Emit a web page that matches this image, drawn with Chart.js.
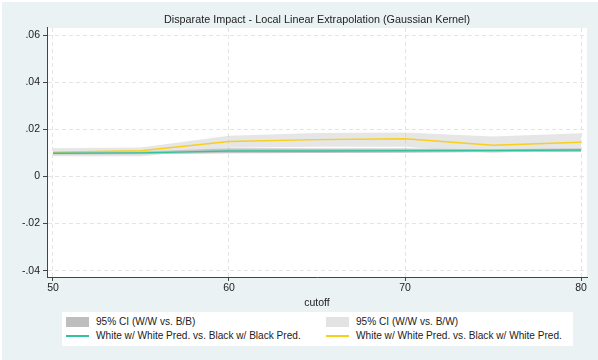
<!DOCTYPE html>
<html>
<head>
<meta charset="utf-8">
<script src="https://cdn.jsdelivr.net/npm/chart.js@4.4.1/dist/chart.umd.min.js"></script>
<style>
  body { margin: 0; background: #fff; }
  #wrap { position: relative; width: 598px; height: 360px; }
  #legend {
    position: absolute; left: 62px; top: 312px; width: 511px; height: 34px;
    background: #fff; font: 10.1px "Liberation Sans", Arial, sans-serif; color: #222;
  }
  #legend .item { position: absolute; height: 14px; line-height: 14px; white-space: nowrap; }
  #legend .sw { position: absolute; left: 0; width: 23px; }
  #legend .txt { position: absolute; left: 30px; top: 0; }
</style>
</head>
<body>
<div id="wrap">
  <canvas id="myChart" width="598" height="360"></canvas>
  <div id="legend"></div>
</div>
<script>
const cutoffs = [50, 55, 60, 65, 70, 75, 80];

// W/W vs. B/B estimate and its 95% CI
const wwBB   = [0.0098, 0.0100, 0.0108, 0.0108, 0.0109, 0.0110, 0.0112];
const wwBBLo = [0.0093, 0.0094, 0.0098, 0.0099, 0.0100, 0.0104, 0.0104];
const wwBBHi = [0.0104, 0.0106, 0.0119, 0.0118, 0.0118, 0.0115, 0.0119];

// W/W vs. B/W estimate and its 95% CI
const wwBW   = [0.0103, 0.0109, 0.0148, 0.0156, 0.0160, 0.0132, 0.0145];
const wwBWLo = [0.0085, 0.0086, 0.0122, 0.0126, 0.0126, 0.0098, 0.0122];
const wwBWHi = [0.0119, 0.0123, 0.0173, 0.0184, 0.0186, 0.0169, 0.0183];

const xTicks = [50, 60, 70, 80];
const yTicks = [-0.04, -0.02, 0, 0.02, 0.04, 0.06];

const pts = vals => vals.map((v, i) => ({x: cutoffs[i], y: v}));
const fmtY = v => v === 0 ? '0' : v.toFixed(2).replace('0.', '.');

const FONT = '"Liberation Sans", Arial, sans-serif';

const bgPlugin = {
    id: 'bg',
    beforeDraw(chart) {
        const c = chart.ctx, a = chart.chartArea;
        c.save();
        c.fillStyle = '#ffffff';
        c.fillRect(0, 0, chart.width, chart.height);
        c.fillStyle = '#eaf2f3';
        c.fillRect(2, 2, chart.width - 2, chart.height - 2);
        c.fillStyle = '#ffffff';
        c.fillRect(a.left, a.top, a.right - a.left, a.bottom - a.top);
        c.restore();
    }
};

const ctx = document.getElementById('myChart').getContext('2d');
const chart = new Chart(ctx, {
    type: 'line',
    data: {
        datasets: [
            {
                label: 'White w/ White Pred. vs. Black w/ Black Pred.',
                data: pts(wwBB), borderColor: '#33c39c', borderWidth: 1.4,
                pointRadius: 0, fill: false
            },
            {
                label: 'White w/ White Pred. vs. Black w/ White Pred.',
                data: pts(wwBW), borderColor: '#f8cf1a', borderWidth: 1.4,
                pointRadius: 0, fill: false
            },
            {
                label: '95% CI (W/W vs. B/W)',
                data: pts(wwBWHi), borderWidth: 0, pointRadius: 0,
                backgroundColor: 'rgba(200, 200, 200, 0.45)', fill: 3
            },
            {
                label: '', data: pts(wwBWLo), borderWidth: 0, pointRadius: 0, fill: false
            },
            {
                label: '95% CI (W/W vs. B/B)',
                data: pts(wwBBHi), borderWidth: 0, pointRadius: 0,
                backgroundColor: 'rgba(170, 170, 170, 0.7)', fill: 5
            },
            {
                label: '', data: pts(wwBBLo), borderWidth: 0, pointRadius: 0, fill: false
            }
        ]
    },
    options: {
        responsive: false,
        animation: false,
        devicePixelRatio: 1,
        layout: { padding: { left: 0, right: 11, top: 0, bottom: 51 } },
        plugins: {
            legend: { display: false },
            tooltip: { enabled: false },
            title: {
                display: true,
                fullSize: false,
                text: 'Disparate Impact - Local Linear Extrapolation (Gaussian Kernel)',
                color: '#222',
                font: { family: FONT, size: 10.8, weight: 'normal' },
                padding: { top: 14, bottom: 1 }
            }
        },
        scales: {
            x: {
                type: 'linear',
                min: 49.66, max: 80.34,
                afterFit: s => { s.height = 32; },
                afterBuildTicks: s => { s.ticks = xTicks.map(v => ({value: v})); },
                ticks: { color: '#222', padding: 1, font: { family: FONT, size: 10.5 }, maxRotation: 0 },
                grid: { color: '#e4e4e4', tickColor: '#444', tickLength: 4, lineWidth: 1 },
                border: { color: '#444', width: 1, dash: [4, 3] },
                title: {
                    display: true, text: 'cutoff', color: '#222',
                    font: { family: FONT, size: 10.5 }, padding: { top: 0, bottom: 0 }
                }
            },
            y: {
                min: -0.0427, max: 0.063,
                afterFit: s => { s.width = 47; },
                afterBuildTicks: s => { s.ticks = yTicks.map(v => ({value: v})); },
                ticks: { color: '#222', padding: 3, font: { family: FONT, size: 10.5 }, callback: v => fmtY(v) },
                grid: { color: '#e4e4e4', tickColor: '#444', tickLength: 4, lineWidth: 1 },
                border: { color: '#444', width: 1, dash: [4, 3] }
            }
        }
    },
    plugins: [bgPlugin]
});

// two-column legend box under the axis title
const legendSpec = [
    { ds: 4, left: 4,   top: 3,  kind: 'box',  swatch: '#bebebe' },
    { ds: 2, left: 264, top: 3,  kind: 'box',  swatch: '#e3e3e3' },
    { ds: 0, left: 4,   top: 17, kind: 'line' },
    { ds: 1, left: 264, top: 17, kind: 'line' }
];
const legendEl = document.getElementById('legend');
legendSpec.forEach(it => {
    const d = chart.data.datasets[it.ds];
    const item = document.createElement('div');
    item.className = 'item';
    item.style.left = it.left + 'px';
    item.style.top = it.top + 'px';
    const sw = document.createElement('div');
    sw.className = 'sw';
    if (it.kind === 'box') {
        sw.style.top = '2px'; sw.style.height = '10px'; sw.style.background = it.swatch;
    } else {
        sw.style.top = '6px'; sw.style.height = '1.5px'; sw.style.background = d.borderColor;
    }
    const txt = document.createElement('span');
    txt.className = 'txt';
    txt.textContent = d.label;
    item.appendChild(sw);
    item.appendChild(txt);
    legendEl.appendChild(item);
});
</script>
</body>
</html>
